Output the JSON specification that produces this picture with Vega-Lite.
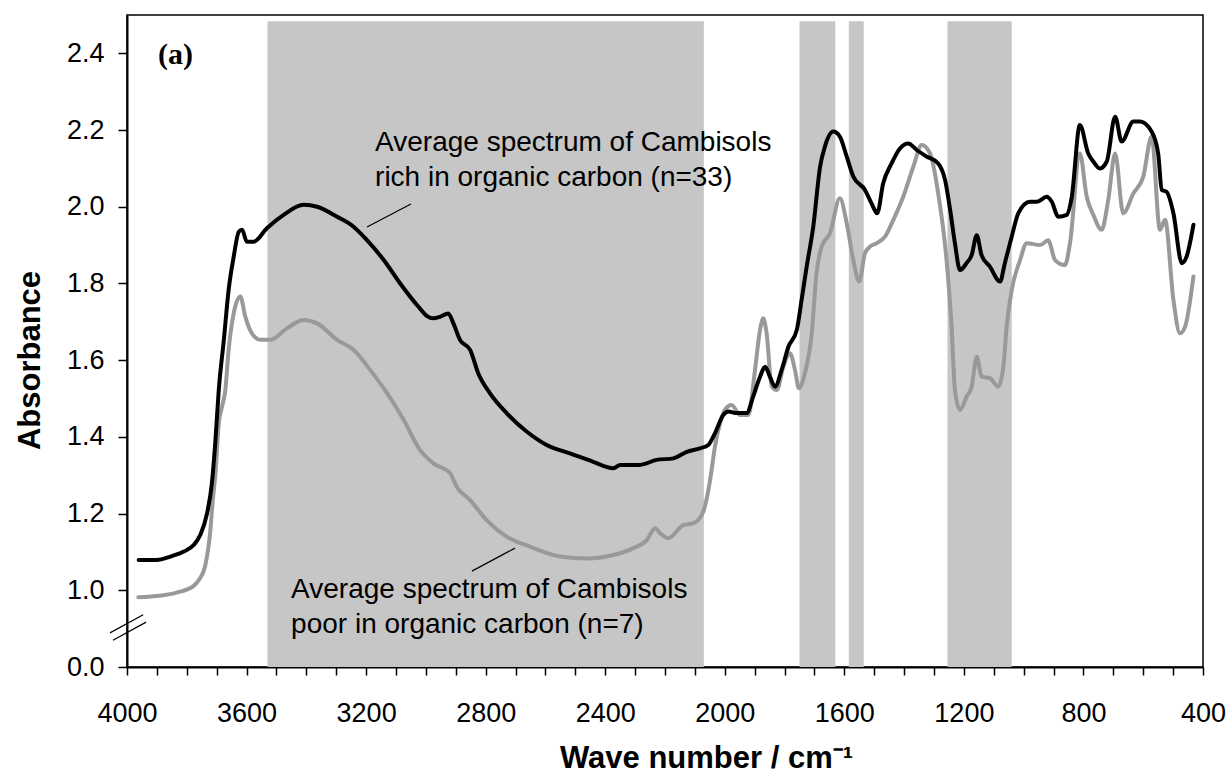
{
  "$schema": "https://vega.github.io/schema/vega-lite/v6.json",
  "width": 1076,
  "height": 652,
  "autosize": "none",
  "padding": {"left": 127, "top": 15, "right": 28, "bottom": 107},
  "background": "white",
  "config": {
    "view": {"stroke": "#000000", "strokeWidth": 1.5},
    "axis": {
      "grid": false,
      "labelFont": "Liberation Sans",
      "labelFontSize": 27,
      "labelColor": "#000000",
      "tickColor": "#000000",
      "domainColor": "#000000",
      "domainWidth": 2,
      "tickWidth": 1.5,
      "titleFont": "Liberation Sans",
      "titleFontWeight": "bold",
      "titleFontSize": 31,
      "titleColor": "#000000"
    }
  },
  "datasets": {
    "rich": [
      {"w":3961,"v":1.079},{"w":3900,"v":1.079},{"w":3855,"v":1.088},{"w":3810,"v":1.101},{"w":3777,"v":1.118},{"w":3755,"v":1.144},{"w":3732,"v":1.201},{"w":3716,"v":1.279},{"w":3704,"v":1.392},{"w":3693,"v":1.522},{"w":3676,"v":1.653},{"w":3660,"v":1.783},{"w":3643,"v":1.870},{"w":3626,"v":1.935},{"w":3615,"v":1.940},{"w":3599,"v":1.909},{"w":3576,"v":1.909},{"w":3532,"v":1.944},{"w":3476,"v":1.979},{"w":3409,"v":2.005},{"w":3364,"v":2.000},{"w":3297,"v":1.974},{"w":3242,"v":1.948},{"w":3197,"v":1.913},{"w":3141,"v":1.861},{"w":3086,"v":1.800},{"w":3030,"v":1.744},{"w":3020,"v":1.735},{"w":2996,"v":1.715},{"w":2975,"v":1.709},{"w":2953,"v":1.713},{"w":2925,"v":1.722},{"w":2908,"v":1.696},{"w":2886,"v":1.653},{"w":2852,"v":1.627},{"w":2825,"v":1.566},{"w":2786,"v":1.514},{"w":2730,"v":1.462},{"w":2663,"v":1.414},{"w":2596,"v":1.379},{"w":2518,"v":1.357},{"w":2440,"v":1.335},{"w":2373,"v":1.318},{"w":2350,"v":1.327},{"w":2284,"v":1.327},{"w":2228,"v":1.340},{"w":2172,"v":1.344},{"w":2127,"v":1.361},{"w":2083,"v":1.370},{"w":2055,"v":1.379},{"w":2033,"v":1.409},{"w":2005,"v":1.457},{"w":1988,"v":1.466},{"w":1960,"v":1.462},{"w":1927,"v":1.462},{"w":1905,"v":1.505},{"w":1882,"v":1.557},{"w":1865,"v":1.583},{"w":1849,"v":1.557},{"w":1832,"v":1.531},{"w":1810,"v":1.574},{"w":1787,"v":1.635},{"w":1759,"v":1.679},{"w":1743,"v":1.757},{"w":1726,"v":1.844},{"w":1704,"v":1.948},{"w":1681,"v":2.105},{"w":1665,"v":2.157},{"w":1637,"v":2.196},{"w":1615,"v":2.183},{"w":1592,"v":2.131},{"w":1570,"v":2.079},{"w":1531,"v":2.044},{"w":1509,"v":2.009},{"w":1490,"v":1.983},{"w":1470,"v":2.061},{"w":1442,"v":2.113},{"w":1414,"v":2.152},{"w":1386,"v":2.165},{"w":1358,"v":2.148},{"w":1325,"v":2.131},{"w":1286,"v":2.113},{"w":1263,"v":2.070},{"w":1246,"v":1.992},{"w":1230,"v":1.905},{"w":1213,"v":1.835},{"w":1191,"v":1.853},{"w":1174,"v":1.874},{"w":1157,"v":1.926},{"w":1141,"v":1.874},{"w":1113,"v":1.844},{"w":1079,"v":1.805},{"w":1063,"v":1.853},{"w":1040,"v":1.922},{"w":1018,"v":1.983},{"w":979,"v":2.013},{"w":956,"v":2.013},{"w":923,"v":2.026},{"w":906,"v":2.013},{"w":884,"v":1.974},{"w":856,"v":1.979},{"w":839,"v":2.026},{"w":812,"v":2.213},{"w":784,"v":2.139},{"w":767,"v":2.118},{"w":745,"v":2.100},{"w":722,"v":2.118},{"w":694,"v":2.235},{"w":672,"v":2.170},{"w":633,"v":2.222},{"w":611,"v":2.222},{"w":572,"v":2.196},{"w":550,"v":2.139},{"w":538,"v":2.044},{"w":522,"v":2.039},{"w":499,"v":1.983},{"w":471,"v":1.853},{"w":455,"v":1.870},{"w":432,"v":1.953}
    ],
    "poor": [
      {"w":3962,"v":0.982},{"w":3901,"v":0.985},{"w":3834,"v":0.994},{"w":3778,"v":1.011},{"w":3756,"v":1.031},{"w":3739,"v":1.062},{"w":3722,"v":1.149},{"w":3713,"v":1.235},{"w":3704,"v":1.305},{"w":3693,"v":1.435},{"w":3682,"v":1.479},{"w":3671,"v":1.522},{"w":3660,"v":1.627},{"w":3643,"v":1.722},{"w":3621,"v":1.766},{"w":3604,"v":1.713},{"w":3582,"v":1.670},{"w":3554,"v":1.653},{"w":3521,"v":1.653},{"w":3465,"v":1.683},{"w":3409,"v":1.705},{"w":3364,"v":1.696},{"w":3297,"v":1.653},{"w":3242,"v":1.627},{"w":3186,"v":1.574},{"w":3130,"v":1.514},{"w":3074,"v":1.444},{"w":3020,"v":1.366},{"w":2975,"v":1.331},{"w":2919,"v":1.305},{"w":2897,"v":1.270},{"w":2852,"v":1.235},{"w":2797,"v":1.183},{"w":2730,"v":1.140},{"w":2652,"v":1.114},{"w":2551,"v":1.088},{"w":2462,"v":1.083},{"w":2373,"v":1.092},{"w":2306,"v":1.110},{"w":2261,"v":1.131},{"w":2233,"v":1.162},{"w":2217,"v":1.149},{"w":2189,"v":1.136},{"w":2139,"v":1.170},{"w":2105,"v":1.175},{"w":2072,"v":1.205},{"w":2049,"v":1.288},{"w":2033,"v":1.374},{"w":2016,"v":1.435},{"w":2000,"v":1.470},{"w":1977,"v":1.483},{"w":1949,"v":1.457},{"w":1921,"v":1.457},{"w":1899,"v":1.574},{"w":1882,"v":1.679},{"w":1871,"v":1.709},{"w":1860,"v":1.670},{"w":1843,"v":1.531},{"w":1826,"v":1.522},{"w":1804,"v":1.583},{"w":1782,"v":1.618},{"w":1765,"v":1.574},{"w":1752,"v":1.527},{"w":1732,"v":1.566},{"w":1709,"v":1.670},{"w":1693,"v":1.827},{"w":1676,"v":1.896},{"w":1648,"v":1.931},{"w":1615,"v":2.022},{"w":1592,"v":1.957},{"w":1570,"v":1.861},{"w":1550,"v":1.805},{"w":1531,"v":1.879},{"w":1514,"v":1.896},{"w":1492,"v":1.905},{"w":1464,"v":1.922},{"w":1436,"v":1.966},{"w":1403,"v":2.026},{"w":1369,"v":2.105},{"w":1341,"v":2.161},{"w":1313,"v":2.139},{"w":1286,"v":2.035},{"w":1258,"v":1.861},{"w":1241,"v":1.687},{"w":1230,"v":1.522},{"w":1213,"v":1.470},{"w":1191,"v":1.505},{"w":1174,"v":1.531},{"w":1157,"v":1.609},{"w":1141,"v":1.557},{"w":1113,"v":1.553},{"w":1085,"v":1.531},{"w":1068,"v":1.583},{"w":1057,"v":1.687},{"w":1040,"v":1.783},{"w":1012,"v":1.861},{"w":990,"v":1.905},{"w":945,"v":1.900},{"w":918,"v":1.913},{"w":895,"v":1.861},{"w":862,"v":1.848},{"w":845,"v":1.905},{"w":812,"v":2.139},{"w":789,"v":2.026},{"w":767,"v":1.979},{"w":739,"v":1.940},{"w":717,"v":2.018},{"w":694,"v":2.139},{"w":667,"v":1.983},{"w":633,"v":2.035},{"w":600,"v":2.078},{"w":572,"v":2.183},{"w":544,"v":1.940},{"w":527,"v":1.966},{"w":499,"v":1.757},{"w":477,"v":1.670},{"w":460,"v":1.687},{"w":432,"v":1.818}
    ],
    "bands": [
      {"w":3530,"w2":2070,"v":0.8,"v2":2.484},
      {"w":1750,"w2":1630,"v":0.8,"v2":2.484},
      {"w":1585,"w2":1535,"v":0.8,"v2":2.484},
      {"w":1255,"w2":1040,"v":0.8,"v2":2.484}
    ],
    "leaders": [
      {"w":3197,"w2":3050,"v":1.947,"v2":2.007},
      {"w":2846,"w2":2702,"v":1.050,"v2":1.110}
    ],
    "breaks": [
      {"w":4057,"w2":3946,"v":0.889,"v2":0.936},
      {"w":4047,"w2":3936,"v":0.870,"v2":0.917}
    ],
    "notes": [
      {"w":3170,"v":2.166,"t":"Average spectrum of Cambisols"},
      {"w":3170,"v":2.075,"t":"rich in organic carbon (n=33)"},
      {"w":3451,"v":1.001,"t":"Average spectrum of Cambisols"},
      {"w":3451,"v":0.910,"t":"poor in organic carbon (n=7)"}
    ],
    "panel": [
      {"w":3896,"v":2.396,"t":"(a)"}
    ]
  },
  "encoding": {
    "x": {
      "field": "w", "type": "quantitative",
      "scale": {"domain": [400, 4000], "reverse": true, "nice": false, "zero": false},
      "axis": {
        "title": "Wave number / cm⁻¹",
        "values": [400,500,600,700,800,900,1000,1100,1200,1300,1400,1500,1600,1700,1800,1900,2000,2100,2200,2300,2400,2500,2600,2700,2800,2900,3000,3100,3200,3300,3400,3500,3600,3700,3800,3900,4000],
        "format": "d",
        "labelExpr": "datum.value % 400 === 0 ? datum.label : ''",
        "labelOverlap": false,
        "labelFlush": false,
        "tickSize": 8,
        "labelPadding": 25,
        "titleAlign": "center",
        "titleX": 579,
        "titleY": 100,
        "titleBaseline": "alphabetic"
      }
    },
    "y": {
      "field": "v", "type": "quantitative",
      "scale": {"domain": [0.8, 2.5], "nice": false, "zero": false},
      "axis": {
        "title": "Absorbance",
        "values": [0.8, 1.0, 1.2, 1.4, 1.6, 1.8, 2.0, 2.2, 2.4],
        "labelExpr": "datum.value < 0.9 ? '0.0' : format(datum.value, '.1f')",
        "tickSize": 9,
        "labelPadding": 14,
        "titleAngle": -90,
        "titleAlign": "center",
        "titleBaseline": "middle",
        "titleX": -97,
        "titleY": 345
      }
    }
  },
  "layer": [
    {
      "data": {"name": "bands"},
      "mark": {"type": "rect", "fill": "#c6c6c6"},
      "encoding": {
        "x2": {"field": "w2"},
        "y2": {"field": "v2"}
      }
    },
    {
      "data": {"name": "poor"},
      "mark": {"type": "line", "color": "#999999", "strokeWidth": 4, "strokeJoin": "round", "strokeCap": "round", "interpolate": "monotone"}
    },
    {
      "data": {"name": "rich"},
      "mark": {"type": "line", "color": "#000000", "strokeWidth": 4, "strokeJoin": "round", "strokeCap": "round", "interpolate": "monotone"}
    },
    {
      "data": {"name": "leaders"},
      "mark": {"type": "rule", "color": "#000000", "strokeWidth": 1.2},
      "encoding": {
        "x2": {"field": "w2"},
        "y2": {"field": "v2"}
      }
    },
    {
      "data": {"name": "breaks"},
      "mark": {"type": "rule", "color": "#000000", "strokeWidth": 1.2, "clip": false},
      "encoding": {
        "x2": {"field": "w2"},
        "y2": {"field": "v2"}
      }
    },
    {
      "data": {"name": "notes"},
      "mark": {"type": "text", "align": "left", "baseline": "middle", "font": "Liberation Sans", "fontSize": 28, "color": "#000000"},
      "encoding": {
        "text": {"field": "t"}
      }
    },
    {
      "data": {"name": "panel"},
      "mark": {"type": "text", "align": "left", "baseline": "middle", "font": "Liberation Serif", "fontWeight": "bold", "fontSize": 30, "color": "#000000"},
      "encoding": {
        "text": {"field": "t"}
      }
    }
  ]
}
